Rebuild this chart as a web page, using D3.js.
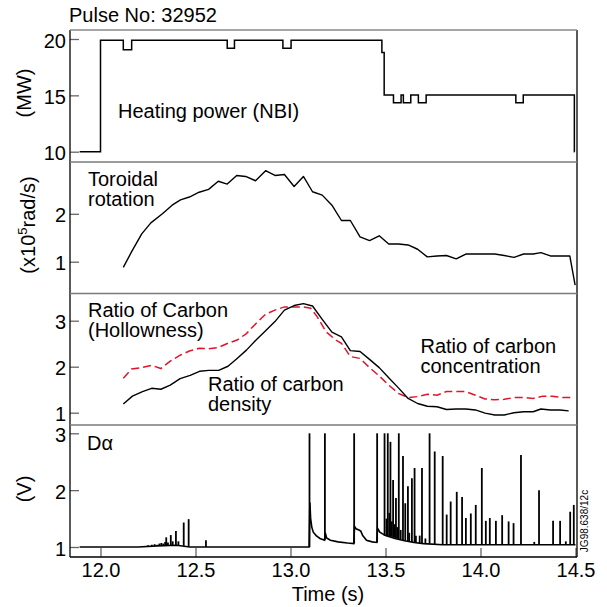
<!DOCTYPE html>
<html><head><meta charset="utf-8">
<script src="https://cdn.jsdelivr.net/npm/d3@7"></script>
<style>
html,body{margin:0;padding:0;background:#fff;}
svg text{font-family:"Liberation Sans",Arial,Helvetica,sans-serif;fill:#000;}
</style></head>
<body>
<svg id="chart" width="607" height="607"></svg>
<script>
// ---------- DATA ----------
const pulseLabel = "Pulse No: 32952";
const xTicks = [12.0, 12.5, 13.0, 13.5, 14.0, 14.5];

// Heating power (NBI), MW, step trace
const powerT = [11.89, 12.0, 12.12, 12.164, 12.667, 12.705, 12.96, 13.003, 13.481, 13.493, 13.542, 13.582, 13.594, 13.633, 13.673, 13.714, 14.186, 14.225, 14.494, 14.495];
const powerV = [10.0, 19.9, 19.05, 19.9, 19.17, 19.9, 19.17, 19.9, 18.8, 15.03, 14.35, 15.03, 14.35, 15.03, 14.35, 15.03, 14.35, 15.03, 10.0, 10.0];
const powerTicks = [10, 15, 20];

// Toroidal rotation, x10^5 rad/s
const rotT = [12.12,12.164,12.217,12.265,12.326,12.377,12.421,12.468,12.519,12.569,12.62,12.667,12.717,12.764,12.816,12.869,12.918,12.968,13.019,13.068,13.116,13.167,13.218,13.268,13.315,13.366,13.416,13.467,13.517,13.568,13.619,13.669,13.72,13.771,13.821,13.872,13.923,13.973,14.024,14.075,14.125,14.176,14.227,14.277,14.318,14.368,14.419,14.47,14.498];
const rotV = [0.88,1.21,1.58,1.81,2.0,2.18,2.29,2.35,2.45,2.51,2.68,2.62,2.80,2.78,2.69,2.90,2.80,2.82,2.57,2.78,2.46,2.39,2.18,1.86,1.86,1.52,1.44,1.54,1.37,1.37,1.35,1.26,1.10,1.12,1.13,1.06,1.16,1.16,1.16,1.16,1.13,1.09,1.16,1.16,1.19,1.12,1.12,1.12,0.51];
const rotTicks = [1, 2];

// Ratio of carbon density (solid black)
const densT = [12.12,12.168,12.221,12.269,12.318,12.367,12.419,12.472,12.521,12.571,12.622,12.671,12.719,12.768,12.816,12.869,12.918,12.968,13.019,13.068,13.116,13.167,13.218,13.268,13.315,13.366,13.416,13.467,13.517,13.568,13.619,13.669,13.72,13.771,13.821,13.872,13.923,13.973,14.024,14.075,14.125,14.176,14.227,14.277,14.318,14.368,14.419,14.464];
const densV = [1.19,1.36,1.46,1.53,1.51,1.60,1.74,1.81,1.90,1.92,1.92,2.01,2.18,2.36,2.57,2.78,2.98,3.23,3.33,3.37,3.32,3.03,2.75,2.65,2.35,2.33,2.16,1.98,1.76,1.54,1.31,1.20,1.14,1.13,1.07,1.08,1.08,1.06,0.99,0.95,0.95,1.0,1.02,1.02,1.08,1.06,1.06,1.04];
// Ratio of carbon concentration / hollowness (red dashed)
const holT = [12.12,12.164,12.217,12.269,12.318,12.367,12.419,12.468,12.519,12.569,12.622,12.671,12.719,12.768,12.816,12.869,12.918,12.968,13.019,13.068,13.106,13.14,13.187,13.238,13.268,13.315,13.366,13.416,13.467,13.517,13.568,13.619,13.669,13.72,13.771,13.821,13.872,13.923,13.973,14.024,14.075,14.125,14.176,14.227,14.277,14.328,14.378,14.429,14.494];
const holV = [1.75,1.95,1.98,2.03,1.96,2.12,2.25,2.34,2.40,2.39,2.42,2.51,2.58,2.72,2.93,3.14,3.23,3.30,3.30,3.30,3.27,3.09,2.76,2.58,2.51,2.22,2.18,1.98,1.80,1.60,1.42,1.33,1.35,1.40,1.38,1.46,1.46,1.46,1.38,1.30,1.28,1.29,1.33,1.33,1.31,1.36,1.36,1.33,1.33];
const ratioTicks = [1, 2, 3];

// D-alpha (V): baseline trace and spikes
const dBaseT = [11.89,12.20,12.30,12.40,12.47,13.098,13.102,13.106,13.112,13.12,13.135,13.155,13.179,13.183,13.19,13.21,13.25,13.30,13.333,13.337,13.345,13.36,13.37,13.38,13.40,13.43,13.454,13.458,13.47,13.50,13.55,13.60,13.65,13.70,13.80,14.0,14.5];
const dBaseV = [1.0,1.0,1.02,1.03,1.0,1.0,1.78,1.5,1.35,1.26,1.2,1.15,1.12,1.25,1.16,1.12,1.09,1.07,1.06,1.36,1.32,1.3,1.28,1.2,1.12,1.09,1.08,1.33,1.26,1.2,1.15,1.11,1.08,1.06,1.04,1.04,1.04];
const spikeT = [12.25,12.27,12.285,12.30,12.31,12.32,12.33,12.34,12.346,12.355,12.37,12.38,12.397,12.41,12.438,12.464,12.555,
  13.10,13.181,13.335,13.456,
  13.495,13.505,13.512,13.52,13.526,13.533,13.54,13.548,13.555,13.562,13.57,13.58,13.592,13.604,13.618,13.625,13.639,13.653,13.66,13.68,13.692,13.71,13.732,13.759,13.801,13.822,13.843,13.875,13.903,13.923,13.949,13.975,14.007,14.028,14.049,14.081,14.114,14.148,14.174,14.213,14.283,14.308,14.382,14.419,14.449,14.472,14.491];
const spikePeak = [1.03,1.04,1.05,1.04,1.06,1.07,1.06,1.09,1.17,1.08,1.21,1.1,1.28,1.1,1.43,1.49,1.12,
  3.0,3.0,3.0,3.0,
  3.0,1.5,3.0,1.6,2.85,1.45,2.18,1.4,1.86,1.35,3.0,1.3,2.6,1.77,2.07,1.25,2.21,2.39,1.2,1.2,2.39,1.15,3.0,2.68,2.6,1.57,1.8,1.97,1.88,1.51,1.59,1.74,2.39,1.46,1.51,1.46,1.56,1.45,1.42,2.62,1.09,2.0,1.46,1.46,1.1,1.62,1.74];
const spikeBase = [1.01,1.01,1.02,1.02,1.02,1.02,1.02,1.03,1.03,1.03,1.03,1.03,1.03,1.03,1.02,1.01,1.0,
  1.0,1.12,1.06,1.08,
  1.2,1.2,1.19,1.19,1.18,1.18,1.17,1.16,1.15,1.15,1.14,1.13,1.12,1.11,1.1,1.1,1.09,1.08,1.08,1.07,1.07,1.06,1.06,1.05,1.04,1.04,1.04,1.04,1.04,1.04,1.04,1.04,1.04,1.04,1.04,1.04,1.04,1.04,1.04,1.04,1.04,1.04,1.04,1.04,1.04,1.04,1.04];
const dTicks = [1, 2, 3];

// ---------- LAYOUT ----------
const svg = d3.select("#chart");
const L = 70, R = 577;
const bounds = [30, 162, 293.5, 425, 557];
const FONT = 20;
const LS = 20;

const x = d3.scaleLinear().domain([12, 14.5]).range([100.5, 575.5]);
const y1 = d3.scaleLinear().domain([10, 20]).range([151.7, 39]);
const y2 = d3.scaleLinear().domain([1, 2]).range([261.7, 213.8]);
const y3 = d3.scaleLinear().domain([1, 3]).range([412.7, 320.7]);
const y4 = d3.scaleLinear().domain([1, 3]).range([547, 433.3]);

function yAxis(scale, ticks) {
  const g = svg.append("g").attr("transform", `translate(${L},0)`)
    .call(d3.axisLeft(scale).tickValues(ticks).tickSize(-9).tickSizeOuter(0).tickPadding(4).tickFormat(d3.format("d")));
  g.select(".domain").remove();
  g.selectAll(".tick line").attr("stroke", "#666").attr("stroke-width", 1.3);
  g.selectAll(".tick text").attr("font-size", FONT).attr("dy", "0.4em")
    .style("font-family", '"Liberation Sans",Arial,sans-serif').attr("fill", "#000");
}
yAxis(y1, powerTicks);
yAxis(y2, rotTicks);
yAxis(y3, ratioTicks);
yAxis(y4, dTicks);

// x axis at bottom, ticks inside
const gx = svg.append("g").attr("transform", `translate(0,${bounds[4]})`)
  .call(d3.axisBottom(x).tickValues(xTicks).tickSize(-9).tickSizeOuter(0).tickPadding(6).tickFormat(d3.format(".1f")));
gx.select(".domain").remove();
gx.selectAll(".tick line").attr("stroke", "#666").attr("stroke-width", 1.3);
gx.selectAll(".tick text").attr("font-size", FONT)
  .style("font-family", '"Liberation Sans",Arial,sans-serif').attr("fill", "#000");

// borders
svg.append("line").attr("x1", L).attr("x2", L).attr("y1", bounds[0]).attr("y2", bounds[4]).attr("stroke", "#000").attr("stroke-width", 1.3);
svg.append("line").attr("x1", R).attr("x2", R).attr("y1", bounds[0]).attr("y2", bounds[4]).attr("stroke", "#000").attr("stroke-width", 1.3);
svg.append("line").attr("x1", L).attr("x2", R).attr("y1", bounds[4]).attr("y2", bounds[4]).attr("stroke", "#000").attr("stroke-width", 1.3);
[0, 1, 2, 3].forEach(i => {
  svg.append("line").attr("x1", L).attr("x2", R).attr("y1", bounds[i]).attr("y2", bounds[i])
    .attr("stroke", i === 0 ? "#888" : "#7a7a7a").attr("stroke-width", i === 0 ? 1.3 : 1.6);
});

// ---------- MARKS ----------
const powerData = powerT.map((t, i) => [t, powerV[i]]);
svg.append("path").datum(powerData)
  .attr("d", d3.line().x(d => x(d[0])).y(d => y1(d[1])).curve(d3.curveStepAfter))
  .attr("fill", "none").attr("stroke", "#000").attr("stroke-width", 1.5);

const rotData = rotT.map((t, i) => [t, rotV[i]]);
svg.append("path").datum(rotData)
  .attr("d", d3.line().x(d => x(d[0])).y(d => y2(d[1])))
  .attr("fill", "none").attr("stroke", "#000").attr("stroke-width", 1.4).attr("stroke-linejoin", "round");

const holData = holT.map((t, i) => [t, holV[i]]);
svg.append("path").datum(holData)
  .attr("d", d3.line().x(d => x(d[0])).y(d => y3(d[1])))
  .attr("fill", "none").attr("stroke", "#e0142b").attr("stroke-width", 1.5).attr("stroke-dasharray", "8,4");

const densData = densT.map((t, i) => [t, densV[i]]);
svg.append("path").datum(densData)
  .attr("d", d3.line().x(d => x(d[0])).y(d => y3(d[1])))
  .attr("fill", "none").attr("stroke", "#000").attr("stroke-width", 1.4).attr("stroke-linejoin", "round");

const dBase = dBaseT.map((t, i) => [t, dBaseV[i]]);
svg.append("path").datum(dBase)
  .attr("d", d3.line().x(d => x(d[0])).y(d => y4(d[1])))
  .attr("fill", "none").attr("stroke", "#000").attr("stroke-width", 1.6);
const spikes = spikeT.map((t, i) => ({ t, peak: spikePeak[i], base: spikeBase[i] }));
svg.append("g").selectAll("line").data(spikes).join("line")
  .attr("x1", d => x(d.t)).attr("x2", d => x(d.t))
  .attr("y1", d => y4(d.base)).attr("y2", d => y4(d.peak))
  .attr("stroke", "#000").attr("stroke-width", 1.8);

// ---------- TEXT ----------
function txt(s, xx, yy, size, extra) {
  const t = svg.append("text").attr("x", xx).attr("y", yy).attr("font-size", size).text(s);
  if (extra) extra(t);
  return t;
}
txt(pulseLabel, 69, 22, LS);
txt("Heating power (NBI)", 118, 118, LS);
txt("Toroidal", 88, 186, LS);
txt("rotation", 88, 206, LS);
txt("Ratio of Carbon", 88, 317, LS);
txt("(Hollowness)", 88, 337, LS);
txt("Ratio of carbon", 208, 390.5, LS);
txt("density", 208, 410.5, LS);
txt("Ratio of carbon", 420.5, 352.5, LS);
txt("concentration", 420.5, 372.5, LS);
txt("Dα", 87, 449.5, LS);

// axis titles
function vtitle(s, cx, cy) {
  svg.append("text").attr("transform", `translate(${cx},${cy}) rotate(-90)`)
    .attr("text-anchor", "middle").attr("font-size", LS).text(s);
}
vtitle("(MW)", 31, 93);
const rt = svg.append("text").attr("transform", "translate(35,225) rotate(-90)")
  .attr("text-anchor", "middle").attr("font-size", LS);
rt.append("tspan").text("(x10");
rt.append("tspan").attr("font-size", 13).attr("dy", -8).text("5");
rt.append("tspan").attr("dy", 8).text("rad/s)");
vtitle("(V)", 31, 489);

txt("Time (s)", 328, 601, LS, t => t.attr("text-anchor", "middle"));

svg.append("text").attr("transform", "translate(588,521) rotate(-90)")
  .attr("text-anchor", "middle").attr("font-size", 10).attr("fill", "#333").text("JG98.638/12c");
</script>
</body></html>
